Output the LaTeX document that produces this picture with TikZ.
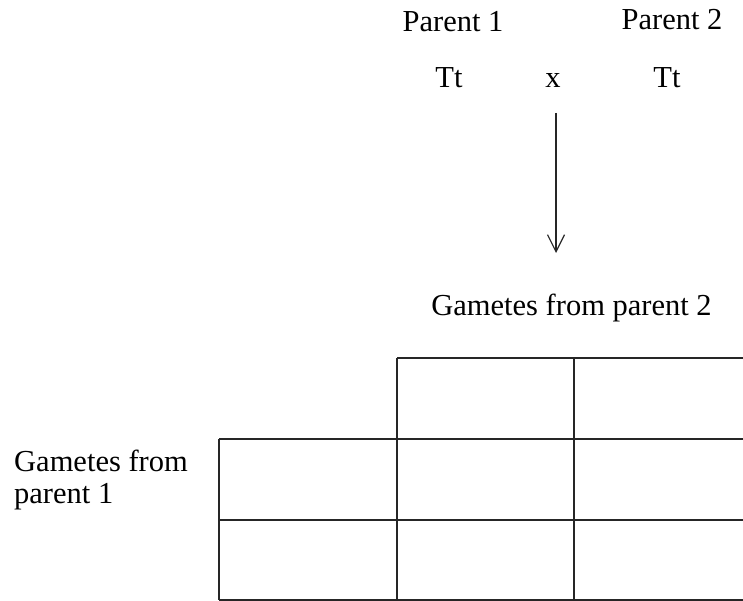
\documentclass[tikz,border=0pt]{standalone}
\usepackage{fontspec}
\setmainfont{Liberation Serif}
\usetikzlibrary{arrows.meta}
\begin{document}
\begin{tikzpicture}[x=1pt,y=-1pt,
  lbl/.style={inner sep=0pt,anchor=base,font=\fontsize{30.5}{32}\selectfont},
  gridline/.style={line width=1.7pt,draw=black!85},
  arr/.style={line width=1.2pt,draw=black!85,-{Straight Barb[length=17pt,width=17pt,line width=1.2pt]}}]
\useasboundingbox (0,0) rectangle (743,601);
\clip (0,0) rectangle (743,601);
% texts
\node[lbl] (p1) at (453,32) {Parent 1};
\node[lbl] (p2) at (672,30) {Parent 2};
\node[lbl] (t1) at (449,88) {Tt};
\node[lbl] (cross) at (553,88) {x};
\node[lbl] (t2) at (667,88) {Tt};
\node[lbl] (g2) at (571.5,315) {Gametes from parent 2};
\node[lbl,anchor=base west,align=left] (g1) at (14,503) {Gametes from\\parent 1};
% arrow
\coordinate (a1) at (556,113);
\coordinate (a2) at (556,253);
\draw[arr] (a1) -- (a2);
% grid
\coordinate (c1) at (219,600);
\coordinate (c2) at (397,600);
\coordinate (c3) at (574,600);
\draw[gridline] (397,358) -- (750,358);
\draw[gridline] (219,439) -- (750,439);
\draw[gridline] (219,520) -- (750,520);
\draw[gridline] (219,600) -- (750,600);
\draw[gridline] (219,439) -- (c1);
\draw[gridline] (397,358) -- (c2);
\draw[gridline] (574,358) -- (c3);
\end{tikzpicture}
\end{document}
